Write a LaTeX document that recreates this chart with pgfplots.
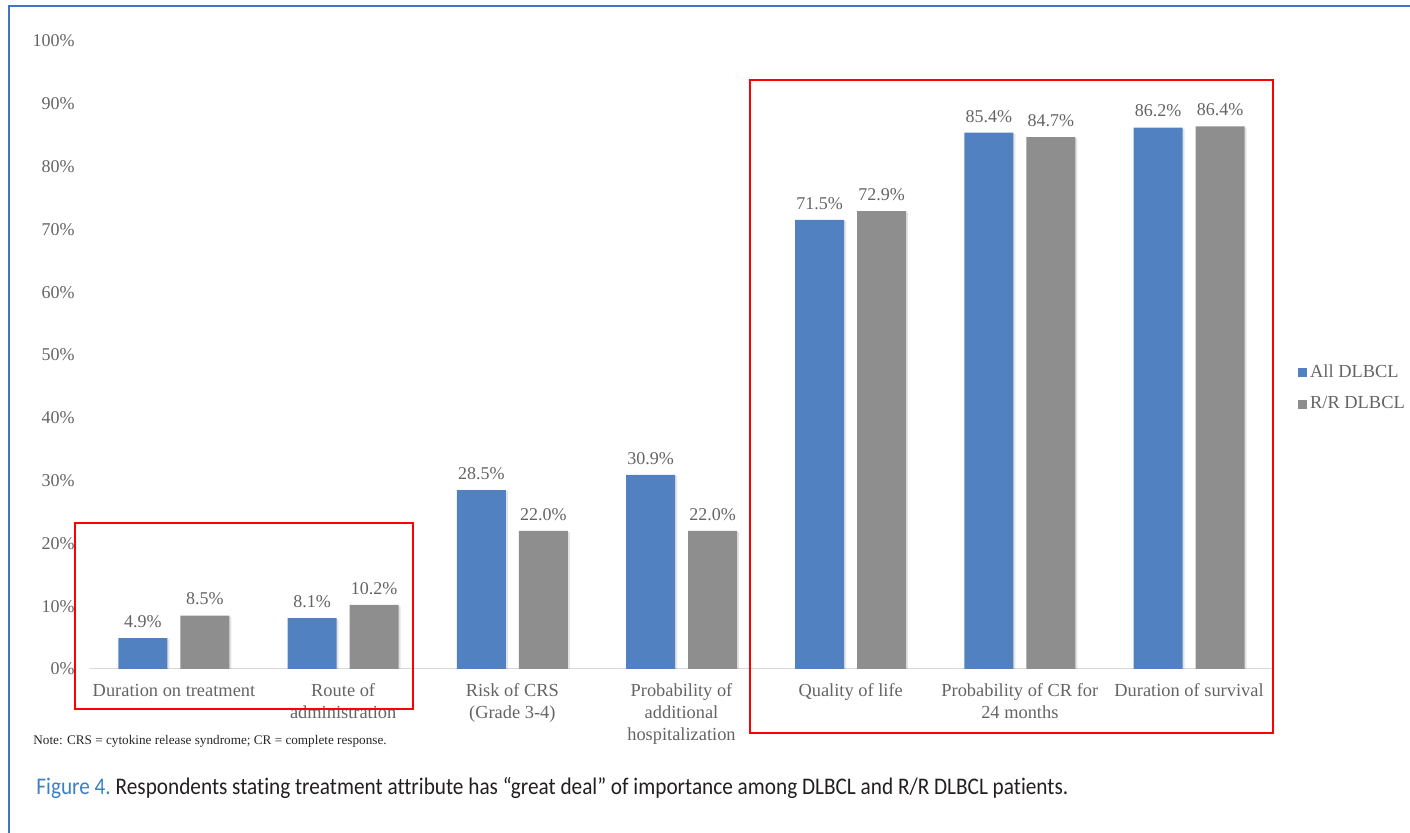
\documentclass[border=0pt]{standalone}
\usepackage{fontspec}
\setmainfont{Liberation Serif}
\newfontfamily\capfont[Ligatures=NoCommon]{Carlito}
\usepackage{pgfplots}
\pgfplotsset{compat=1.18}
\usetikzlibrary{shadows}
\definecolor{barblue}{RGB}{82,129,193}
\definecolor{bargray}{RGB}{142,142,142}
\definecolor{txtgray}{RGB}{100,100,100}
\definecolor{frameblue}{RGB}{68,114,196}
\definecolor{capblue}{RGB}{59,127,196}
\definecolor{captext}{RGB}{35,31,32}
\definecolor{basegray}{RGB}{217,217,217}

\begin{document}
\begin{tikzpicture}
\path[use as bounding box] (0,0) rectangle (705pt,416.5pt);
% outer frame (left and top edges)
\draw[frameblue, line width=1pt] (4.5pt,0) -- (4.5pt,413.5pt) -- (705pt,413.5pt);

\begin{axis}[
  at={(44.7pt,82pt)}, anchor=south west, scale only axis,
  width=592.1pt, height=314pt,
  xmin=-0.5, xmax=6.5, ymin=0, ymax=100,
  ybar, bar width=24.5pt,
  axis line style={draw=none},
  tick style={draw=none},
  /pgf/number format/assume math mode=true,
  ytick={0,10,...,100},
  yticklabel={\pgfmathprintnumber{\tick}\%},
  yticklabel style={font=\fontsize{9}{10}\selectfont, text=txtgray, inner sep=0pt, xshift=-7.2pt},
  xtick={0,...,6},
  xticklabels={Duration on treatment, Route of\\administration, Risk of CRS\\(Grade 3-4),
    Probability of\\additional\\hospitalization, Quality of life,
    Probability of CR for\\24 months, Duration of survival},
  xticklabel style={font=\fontsize{9.2}{11}\selectfont, text=txtgray, align=center,
    inner sep=0pt, anchor=north, yshift=-3pt},
  nodes near coords={\pgfmathprintnumber[fixed,fixed zerofill,precision=1]{\pgfplotspointmeta}\%},
  every node near coord/.append style={font=\fontsize{9}{10}\selectfont, text=txtgray,
    inner sep=0pt, anchor=south, yshift=5pt},
  legend style={at={(axis description cs:1.0206,0.447)}, anchor=west, draw=none, fill=none,
    font=\fontsize{9.2}{11}\selectfont, text=txtgray, row sep=5pt, inner sep=0pt,
    nodes={inner sep=1.5pt}},
  legend cell align=left,
  legend image code/.code={\fill[#1, draw=none] (0pt,-2.2pt) rectangle (4.4pt,2.2pt);},
]
\draw[basegray, line width=0.6pt] (axis cs:-0.5,0) -- (axis cs:6.5,0);

\addplot[fill=barblue, draw=none, bar shift=-15.5pt, forget plot,
  drop shadow={shadow xshift=1pt, shadow yshift=-0.6pt, opacity=0.22}]
  coordinates {(0,4.9) (1,8.1) (2,28.5) (3,30.9) (4,71.5) (5,85.4) (6,86.2)};
\addplot[fill=bargray, draw=none, bar shift=15.5pt, forget plot,
  drop shadow={shadow xshift=1pt, shadow yshift=-0.6pt, opacity=0.22}]
  coordinates {(0,8.5) (1,10.2) (2,22.0) (3,22.0) (4,72.9) (5,84.7) (6,86.4)};

\addlegendimage{fill=barblue, draw=none}
\addlegendentry{All DLBCL}
\addlegendimage{fill=bargray, draw=none}
\addlegendentry{R/R DLBCL}
\end{axis}

% highlight boxes
\draw[red, line width=1.3pt] (37.5pt,62pt) rectangle (206.5pt,155pt);
\draw[red, line width=1.3pt] (375pt,50pt) rectangle (636.5pt,376.5pt);

% note and caption
\node[anchor=west, inner sep=0pt, font=\fontsize{6.6}{8}\selectfont, text=black!85]
  at (16.5pt,46pt) {Note: CRS = cytokine release syndrome; CR = complete response.};
\node[anchor=west, inner sep=0pt] at (18pt,22.5pt)
  {\resizebox{516pt}{!}{\scalebox{1}[1.12]{\capfont\fontsize{10}{12}\selectfont\textcolor{capblue}{Figure 4.}\ \textcolor{captext}{Respondents stating treatment attribute has “great deal” of importance among DLBCL and R/R DLBCL patients.}}}};
\end{tikzpicture}
\end{document}
